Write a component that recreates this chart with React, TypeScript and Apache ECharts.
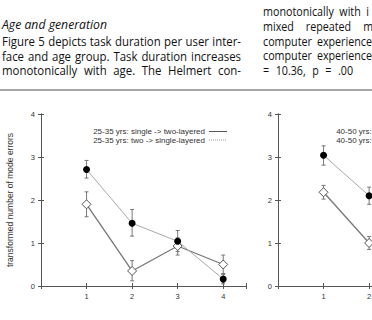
import React, { useEffect, useRef } from "react";
import * as echarts from "echarts";

// Session positions on the x axis
const sessions = [1, 2, 3, 4];

// 25-35 yrs group
const young2to1 = [2.71, 1.46, 1.04, 0.16];
const young2to1Lo = [2.51, 1.16, 0.8, 0.05];
const young2to1Hi = [2.92, 1.78, 1.29, 0.27];
const young1to2 = [1.9, 0.35, 0.93, 0.5];
const young1to2Lo = [1.61, 0.12, 0.72, 0.29];
const young1to2Hi = [2.19, 0.59, 1.12, 0.72];

// 40-50 yrs group (first two sessions)
const olderSessions = [1, 2];
const older2to1 = [3.04, 2.1];
const older2to1Lo = [2.81, 1.9];
const older2to1Hi = [3.26, 2.3];
const older1to2 = [2.18, 1.0];
const older1to2Lo = [2.02, 0.85];
const older1to2Hi = [2.34, 1.15];

const yTicks = [0, 1, 2, 3, 4];

const legendYoung = ["25-35 yrs: single -> two-layered", "25-35 yrs: two -> single-layered"];
const legendOlder = ["40-50 yrs: single -> two-layered", "40-50 yrs: two -> single-layered"];

const BODY_FONT = "Open Sans";
const BODY_SIZE = 12;
const TEXT_COLOR = "#111";

const HEADING = "Age and generation";
const PARAGRAPH = [
  "Figure 5 depicts task duration per user inter-",
  "face and age group. Task duration increases",
  "monotonically with age. The Helmert con-",
];
// next column, running past the right edge of the page
const NEXT_COLUMN = [
  "monotonically with i",
  "mixed repeated m",
  "computer experience",
  "computer experience",
  "= 10.36, p = .00",
];
const NEXT_COLUMN_GAPS = [5.5, 12, 5, 5, 6.5];

type Measure = (s: string, italic?: boolean) => number;

const measureCtx = document.createElement("canvas").getContext("2d")!;
const canvasMeasure: Measure = (s, italic = false) => {
  measureCtx.font = `${italic ? "italic " : ""}${BODY_SIZE}px '${BODY_FONT}'`;
  return measureCtx.measureText(s).width;
};

function buildText(measure: Measure) {
  // the column's typeface runs narrower than Open Sans: the words of a full
  // justified line take about 206px of its 239px, the rest is word spacing
  const lastLine = PARAGRAPH[2].split(" ");
  const narrow = 206 / lastLine.reduce((a, w) => a + measure(w), 0);
  // in the next column "computer experience" spans 263..372
  const narrowNext = (372 - 263 - 5) / (measure("computer") + measure("experience"));
  const space = BODY_SIZE * 0.26;
  const headingWords = HEADING.split(" ");
  const headingScale =
    105 / (headingWords.reduce((a, w) => a + measure(w, true), 0) + space * (headingWords.length - 1));

  const word = (text: string, x: number, baseline: number, italic = false, scale = narrow) => ({
    type: "text",
    x,
    y: baseline - BODY_SIZE * 0.38,
    scaleX: scale,
    silent: true,
    style: {
      text,
      x: 0,
      y: 0,
      fill: TEXT_COLOR,
      fontFamily: BODY_FONT,
      fontSize: BODY_SIZE,
      fontStyle: italic ? "italic" : "normal",
      align: "left",
      verticalAlign: "middle",
    },
  });

  const justified = (line: string, x0: number, x1: number, baseline: number) => {
    const words = line.split(" ");
    const widths = words.map((w) => measure(w) * narrow);
    const total = widths.reduce((a, b) => a + b, 0);
    const gap = words.length > 1 ? (x1 - x0 - total) / (words.length - 1) : 0;
    let x = x0;
    return words.map((w, i) => {
      const el = word(w, x, baseline);
      x += widths[i] + gap;
      return el;
    });
  };

  const flow = (line: string, x0: number, baseline: number, gap: number) => {
    let x = x0;
    return line.split(" ").map((w) => {
      const el = word(w, x, baseline, false, narrowNext);
      x += measure(w) * narrowNext + gap;
      return el;
    });
  };

  const heading = (x0: number, baseline: number) => {
    let x = x0;
    return headingWords.map((w) => {
      const el = word(w, x, baseline, true, headingScale);
      x += (measure(w, true) + space) * headingScale;
      return el;
    });
  };

  const nextBaselines = [16, 30.5, 45.5, 60, 74.5];

  return [
    ...heading(2, 29.5),
    ...justified(PARAGRAPH[0], 2, 241, 45.5),
    ...justified(PARAGRAPH[1], 2, 241, 60),
    ...justified(PARAGRAPH[2], 2, 241, 74.5),
    ...NEXT_COLUMN.flatMap((line, i) => flow(line, 263, nextBaselines[i], NEXT_COLUMN_GAPS[i])),
  ];
}

function pairs(xs: number[], ys: number[]) {
  return xs.map((x, i) => [x, ys[i]]);
}

function errorSeries(xs: number[], lo: number[], hi: number[], xi: number, yi: number) {
  return {
    type: "custom",
    xAxisIndex: xi,
    yAxisIndex: yi,
    z: 1,
    silent: true,
    data: xs.map((x, i) => [x, lo[i], hi[i]]),
    renderItem: (_p: any, api: any) => {
      const a = api.coord([api.value(0), api.value(1)]);
      const b = api.coord([api.value(0), api.value(2)]);
      const style = { stroke: "#777", lineWidth: 1 };
      const cap = 2;
      return {
        type: "group",
        children: [
          { type: "line", shape: { x1: a[0], y1: a[1], x2: b[0], y2: b[1] }, style },
          { type: "line", shape: { x1: a[0] - cap, y1: a[1], x2: a[0] + cap, y2: a[1] }, style },
          { type: "line", shape: { x1: b[0] - cap, y1: b[1], x2: b[0] + cap, y2: b[1] }, style },
        ],
      };
    },
  };
}

const axisColor = "#555";
const labelStyle = { color: "#333", fontSize: 7.5, fontFamily: "Liberation Sans" };

function xAxes(grid: number) {
  const base = {
    type: "value",
    gridIndex: grid,
    min: 0,
    max: 4.5,
    interval: 1,
    splitLine: { show: false },
    axisLine: { lineStyle: { color: axisColor, width: 1 } },
    axisTick: { inside: true, length: 3, lineStyle: { color: axisColor } },
  };
  return [
    {
      ...base,
      position: "bottom",
      axisLabel: {
        ...labelStyle,
        margin: 6,
        formatter: (v: number) => (v >= 1 && Number.isInteger(v) ? String(v) : ""),
      },
    },
    { ...base, position: "top", axisLabel: { show: false } },
  ];
}

function yAxes(grid: number, withName: boolean) {
  const base = {
    type: "value",
    gridIndex: grid,
    min: 0,
    max: 4,
    interval: 1,
    splitLine: { show: false },
    axisLine: { lineStyle: { color: axisColor, width: 1 } },
    axisTick: { inside: true, length: 3, lineStyle: { color: axisColor } },
  };
  return [
    {
      ...base,
      position: "left",
      axisLabel: { ...labelStyle, margin: 6, formatter: (v: number) => (yTicks.includes(v) ? String(v) : "") },
      ...(withName
        ? {
            name: "transformed number of mode errors",
            nameLocation: "middle",
            nameRotate: 90,
            nameGap: 27,
            nameTextStyle: { color: "#333", fontSize: 8.5, fontFamily: "Liberation Sans" },
          }
        : {}),
    },
    { ...base, position: "right", axisLabel: { show: false } },
  ];
}

function legendBlock(texts: string[], right: number, top: number) {
  const els: any[] = [];
  texts.forEach((t, i) => {
    const y = top + i * 8.5;
    els.push({
      type: "text",
      x: right,
      y,
      silent: true,
      style: {
        text: t,
        fill: "#333",
        fontSize: 8,
        fontFamily: "Liberation Sans",
        align: "right",
        verticalAlign: "middle",
      },
    });
    els.push({
      type: "line",
      silent: true,
      shape: { x1: right + 4, y1: y, x2: right + 22, y2: y },
      style: i === 0 ? { stroke: "#555", lineWidth: 1 } : { stroke: "#999", lineWidth: 1, lineDash: [1, 1] },
    });
  });
  return els;
}

function buildOption(measure: Measure) {
  return {
    animation: false,
    backgroundColor: "#fff",
    grid: [
      { left: 41, top: 114, width: 205, height: 172, outerBoundsMode: "none" },
      { left: 278, top: 114, width: 205, height: 172, outerBoundsMode: "none" },
    ],
    xAxis: [...xAxes(0), ...xAxes(1)],
    yAxis: [...yAxes(0, true), ...yAxes(1, false)],
    graphic: [
      {
        type: "line",
        silent: true,
        shape: { x1: 0, y1: 90, x2: 520, y2: 90 },
        style: { stroke: "#888", lineWidth: 1.5 },
      },
      ...buildText(measure),
      ...legendBlock(legendYoung, 205, 131.5),
      ...legendBlock(legendOlder, 448, 131.5),
    ],
    series: [
      errorSeries(sessions, young2to1Lo, young2to1Hi, 0, 0),
      errorSeries(sessions, young1to2Lo, young1to2Hi, 0, 0),
      errorSeries(olderSessions, older2to1Lo, older2to1Hi, 2, 2),
      errorSeries(olderSessions, older1to2Lo, older1to2Hi, 2, 2),
      {
        type: "line",
        name: legendYoung[1],
        xAxisIndex: 0,
        yAxisIndex: 0,
        data: pairs(sessions, young2to1),
        symbol: "circle",
        symbolSize: 7,
        itemStyle: { color: "#000" },
        lineStyle: { color: "#aaa", width: 1 },
        z: 3,
      },
      {
        type: "line",
        name: legendYoung[0],
        xAxisIndex: 0,
        yAxisIndex: 0,
        data: pairs(sessions, young1to2),
        symbol: "diamond",
        symbolSize: 9,
        itemStyle: { color: "#fff", borderColor: "#555", borderWidth: 1 },
        lineStyle: { color: "#777", width: 1.3 },
        z: 2,
      },
      {
        type: "line",
        name: legendOlder[1],
        xAxisIndex: 2,
        yAxisIndex: 2,
        data: pairs(olderSessions, older2to1),
        symbol: "circle",
        symbolSize: 7,
        itemStyle: { color: "#000" },
        lineStyle: { color: "#aaa", width: 1 },
        z: 3,
      },
      {
        type: "line",
        name: legendOlder[0],
        xAxisIndex: 2,
        yAxisIndex: 2,
        data: pairs(olderSessions, older1to2),
        symbol: "diamond",
        symbolSize: 9,
        itemStyle: { color: "#fff", borderColor: "#555", borderWidth: 1 },
        lineStyle: { color: "#777", width: 1.3 },
        z: 2,
      },
    ],
  };
}

export default function App() {
  const ref = useRef<HTMLDivElement>(null);

  useEffect(() => {
    const el = ref.current!;
    const chart = echarts.init(el, null, { renderer: "svg" });
    chart.setOption(buildOption(canvasMeasure));

    // Lay the prose out again from the widths of the words as actually drawn.
    const relayout = () => {
      const widths = new Map<string, number>();
      el.querySelectorAll("text").forEach((t) => {
        const italic = (t.getAttribute("style") || "").includes("italic");
        const key = (italic ? "i:" : "n:") + (t.textContent || "");
        const w = (t as SVGTextElement).getComputedTextLength();
        if (w > 0 && !widths.has(key)) widths.set(key, w);
      });
      const measured: Measure = (s, italic = false) =>
        widths.get((italic ? "i:" : "n:") + s) ?? canvasMeasure(s, italic);
      chart.setOption(buildOption(measured), true);
    };
    const timer = setTimeout(relayout, 30);

    return () => {
      clearTimeout(timer);
      chart.dispose();
    };
  }, []);

  return (
    <div style={{ position: "fixed", left: 0, top: 0, width: 372, height: 320, overflow: "hidden", background: "#fff" }}>
      <div ref={ref} style={{ width: 520, height: 320 }} />
    </div>
  );
}
